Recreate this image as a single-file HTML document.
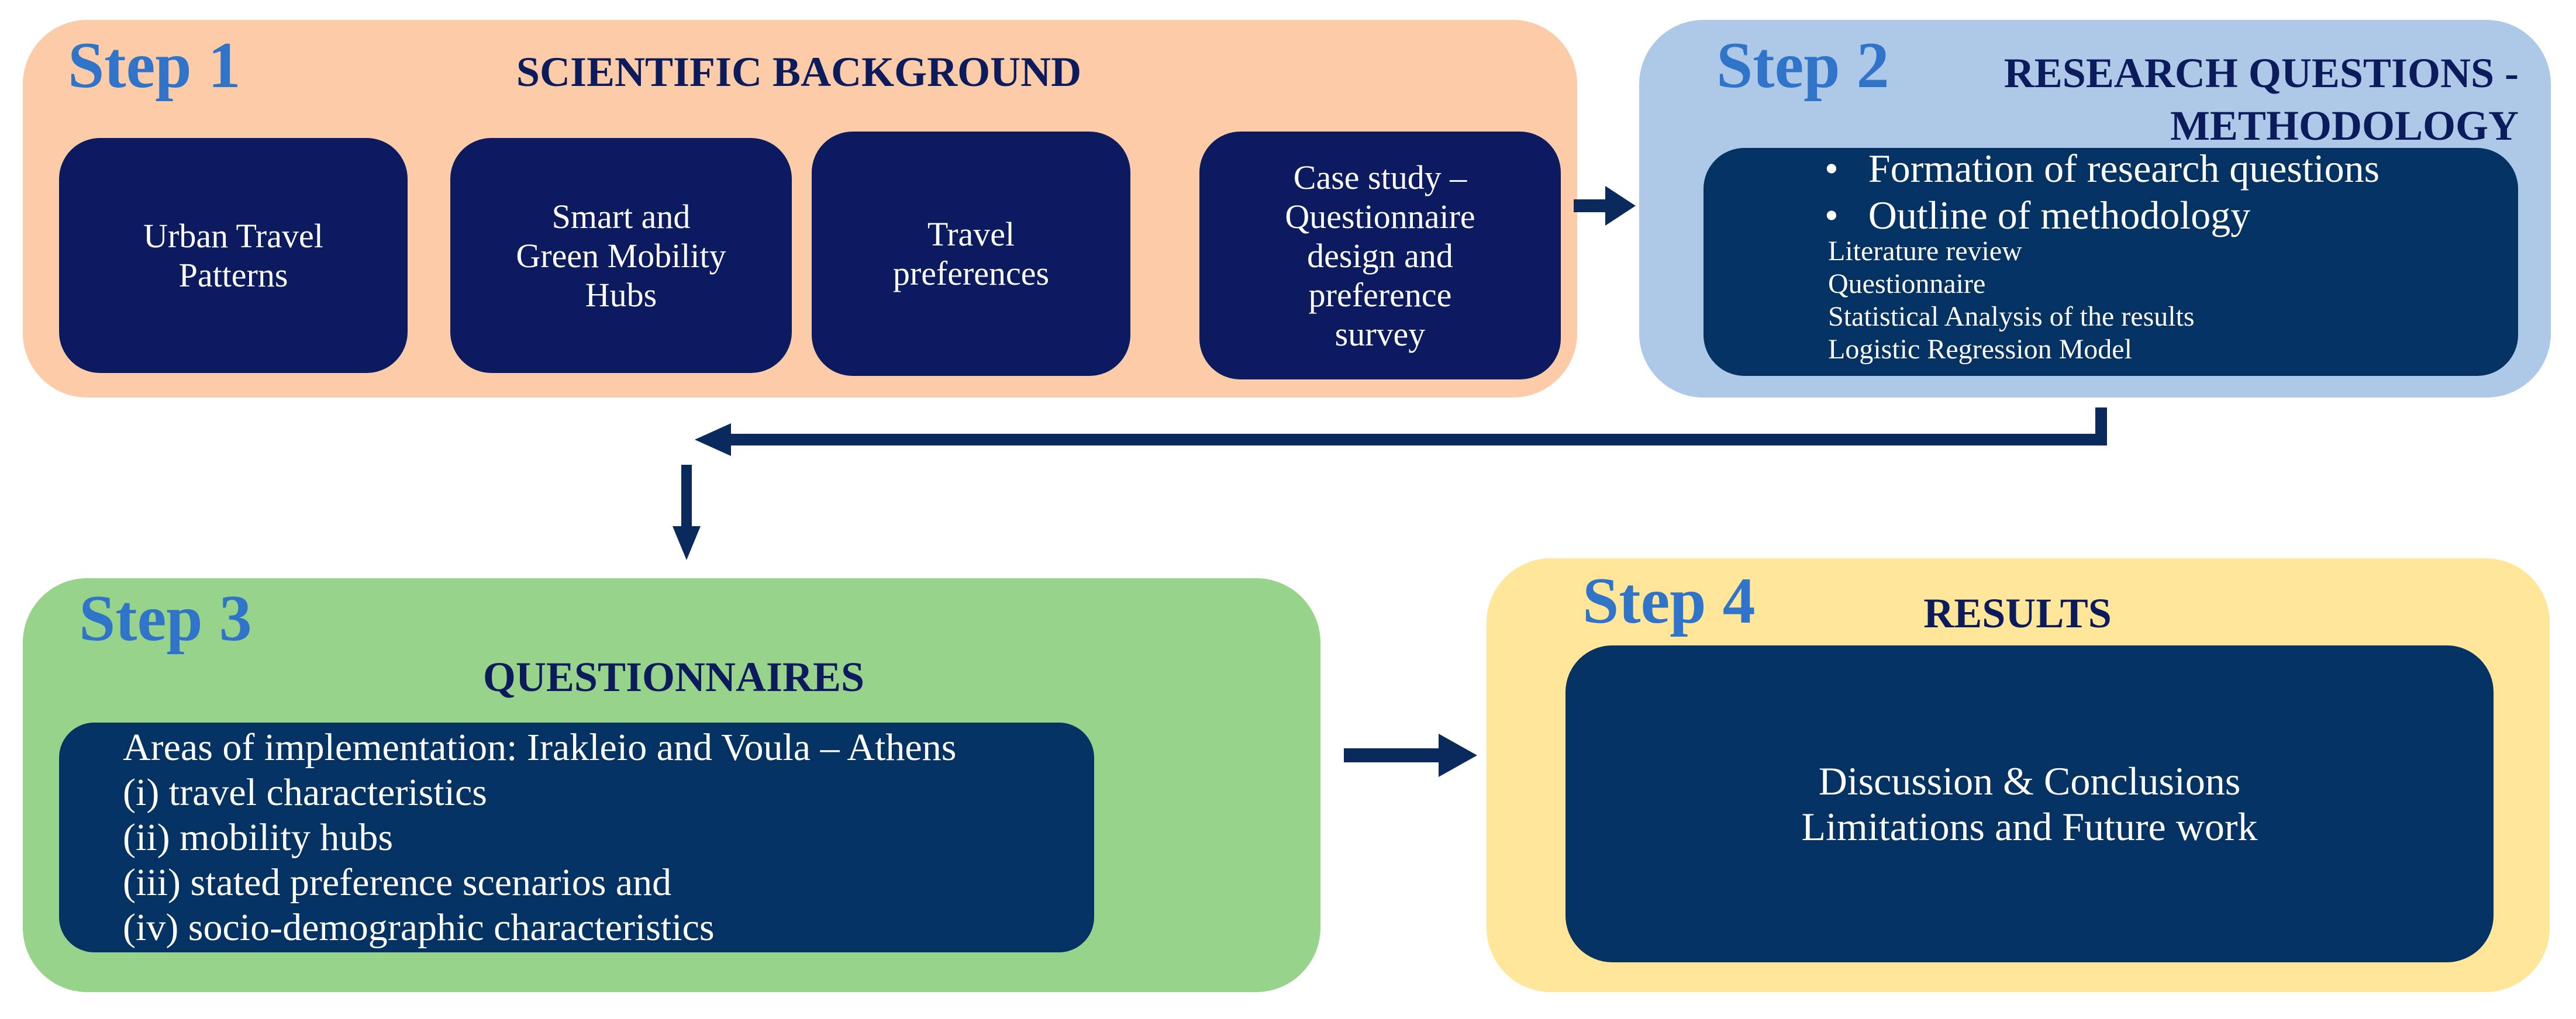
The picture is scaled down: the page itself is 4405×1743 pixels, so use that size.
<!DOCTYPE html>
<html><head><meta charset="utf-8"><style>
body{margin:0;width:4405px;height:1743px;background:#fff;position:relative;overflow:hidden;font-family:"Liberation Serif",serif}
.b{position:absolute;box-sizing:border-box}
.t{position:absolute;white-space:nowrap}
.step{color:#2f74c9;font-weight:bold;font-size:112px;font-family:"Liberation Serif",serif}
.h{color:#0c1b5c;font-weight:bold;font-size:72px}
.d{background:#0c1b5f;border-radius:70px;color:#fff;display:flex;align-items:center;justify-content:center;text-align:center;font-size:58px;line-height:67px}
.n{background:#043263;color:#fff}
</style></head><body>
<!-- Step 1 -->
<div class="b" style="left:39px;top:34px;width:2658px;height:646px;background:#fccba8;border-radius:110px"></div>
<div class="t step" style="left:116px;top:48px">Step 1</div>
<div class="t h" style="left:1366px;top:82px;transform:translateX(-50%)">SCIENTIFIC BACKGROUND</div>
<div class="b d" style="left:101px;top:236px;width:596px;height:402px">Urban Travel<br>Patterns</div>
<div class="b d" style="left:770px;top:236px;width:584px;height:402px">Smart and<br>Green Mobility<br>Hubs</div>
<div class="b d" style="left:1388px;top:225px;width:545px;height:418px">Travel<br>preferences</div>
<div class="b d" style="left:2051px;top:225px;width:618px;height:424px">Case study –<br>Questionnaire<br>design and<br>preference<br>survey</div>
<!-- Step 2 -->
<div class="b" style="left:2803px;top:34px;width:1559px;height:646px;background:#aec8e8;border-radius:110px"></div>
<div class="t step" style="left:2935px;top:48px">Step 2</div>
<div class="t h" style="right:98px;top:80px;text-align:right;line-height:90px">RESEARCH QUESTIONS -<br>METHODOLOGY</div>
<div class="b n" style="left:2913px;top:253px;width:1393px;height:390px;border-radius:70px"></div>
<div class="t" style="left:3120px;top:248px;color:#fff;font-size:68px;line-height:80px">•&nbsp;&nbsp;&nbsp;Formation of research questions<br>•&nbsp;&nbsp;&nbsp;Outline of methodology</div>
<div class="t" style="left:3126px;top:402px;color:#fff;font-size:48px;line-height:56px">Literature review<br>Questionnaire<br>Statistical Analysis of the results<br>Logistic Regression Model</div>
<!-- connectors -->
<svg class="b" style="left:0;top:0" width="4405" height="1743">
<g fill="#0a2a5e">
<rect x="2691" y="341" width="60" height="22"/>
<polygon points="2745,318 2797,352 2745,386"/>
<rect x="3583" y="697" width="20" height="65"/>
<rect x="1240" y="742" width="2363" height="20"/>
<polygon points="1188,752 1250,724 1250,780"/>
<rect x="1165" y="795" width="18" height="110"/>
<polygon points="1150,900 1198,900 1174,958"/>
<rect x="2298" y="1280" width="170" height="24"/>
<polygon points="2460,1255 2526,1292 2460,1329"/>
</g></svg>
<!-- Step 3 -->
<div class="b" style="left:39px;top:989px;width:2219px;height:708px;background:#98d38c;border-radius:110px"></div>
<div class="t step" style="left:135px;top:994px">Step 3</div>
<div class="t h" style="left:1152px;top:1117px;transform:translateX(-50%)">QUESTIONNAIRES</div>
<div class="b n" style="left:101px;top:1236px;width:1770px;height:393px;border-radius:60px"></div>
<div class="t" style="left:210px;top:1240px;color:#fff;font-size:66px;line-height:77px">Areas of implementation: Irakleio and Voula – Athens<br>(i) travel characteristics<br>(ii) mobility hubs<br>(iii) stated preference scenarios and<br>(iv) socio-demographic characteristics</div>
<!-- Step 4 -->
<div class="b" style="left:2542px;top:955px;width:1818px;height:742px;background:#ffe699;border-radius:110px"></div>
<div class="t step" style="left:2706px;top:964px">Step 4</div>
<div class="t h" style="left:3450px;top:1008px;transform:translateX(-50%)">RESULTS</div>
<div class="b n" style="left:2677px;top:1104px;width:1587px;height:542px;border-radius:80px;display:flex;align-items:center;justify-content:center;text-align:center;font-size:68px;line-height:78px">Discussion &amp; Conclusions<br>Limitations and Future work</div>
</body></html>
